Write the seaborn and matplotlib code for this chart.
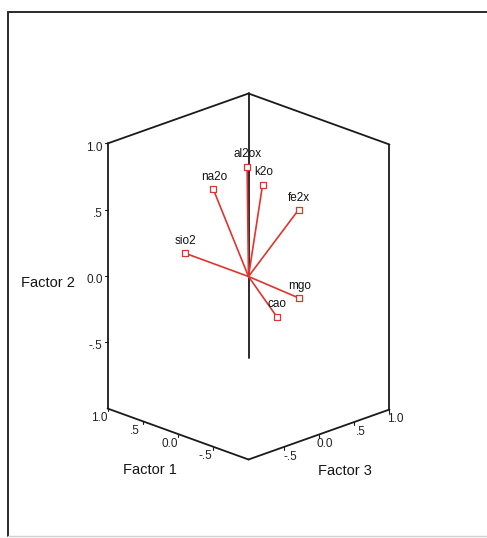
import numpy as np
import pandas as pd
import matplotlib
matplotlib.use("Agg")
import matplotlib.pyplot as plt
from matplotlib import font_manager
from matplotlib.lines import Line2D
import seaborn as sns

# Rotated factor loadings for the oxide variables
variables = ["sio2", "al2ox", "fe2x", "mgo", "cao", "na2o", "k2o"]
factor1 = [0.88, 0.14, -0.08, -0.46, -0.52, 0.56, 0.12]
factor2 = [0.01, 0.78, 0.40, -0.12, -0.18, 0.54, 0.61]
factor3 = [-0.02, 0.12, 0.63, 0.25, -0.12, 0.06, 0.32]

tick_values = [1.0, 0.5, 0.0, -0.5]
tick_labels = ["1.0", ".5", "0.0", "-.5"]
axis_titles = ["Factor 1", "Factor 2", "Factor 3"]

df = pd.DataFrame({"variable": variables, "f1": factor1, "f2": factor2, "f3": factor3})

# Oblique projection of the loading cube onto the page (vertical unit = 1)
E1 = np.array([-0.532, 0.1925])
E2 = np.array([0.0, 1.0])
E3 = np.array([0.532, 0.1887])
PX = 132.5  # pixels per vertical unit


def project(f1, f2, f3):
    f1, f2, f3 = np.asarray(f1, float), np.asarray(f2, float), np.asarray(f3, float)
    x = f1 * E1[0] + f2 * E2[0] + f3 * E3[0]
    y = f1 * E1[1] + f2 * E2[1] + f3 * E3[1]
    return x, y


def pick_font(*names):
    have = {f.name for f in font_manager.fontManager.ttflist}
    for n in names:
        if n in have:
            return n
    return "DejaVu Sans"


sns.set_theme(style="white")
main_font = pick_font("Liberation Sans", "Arimo", "DejaVu Sans")
narrow_font = pick_font("Liberation Sans Narrow", "Liberation Sans", "DejaVu Sans")
plt.rcParams["font.family"] = [main_font, "DejaVu Sans"]

W, H = 487, 538
fig = plt.figure(figsize=(W / 100, H / 100), dpi=100)
ax = fig.add_axes([0, 0, 1, 1])
cx, cy = 248.5, 276.5
ax.set_xlim(-cx / PX, (W - cx) / PX)
ax.set_ylim(-(H - cy) / PX, cy / PX)
ax.axis("off")

BOX = "#1a1a1a"
RED = "#e0342c"
box_lw = 1.3


def edge(a, b, **kw):
    xs, ys = project([a[0], b[0]], [a[1], b[1]], [a[2], b[2]])
    ax.plot(xs, ys, color=BOX, lw=box_lw, solid_capstyle="round", zorder=1, **kw)


# back walls and front floor edges (f1, f2, f3)
edge((1, 1, -1), (1, 1, 1))
edge((1, 1, 1), (-1, 1, 1))
edge((1, -1, -1), (1, 1, -1))
edge((1, -1, 1), (1, 1, 1))
edge((-1, -1, 1), (-1, 1, 1))
edge((1, -1, -1), (-1, -1, -1))
edge((-1, -1, -1), (-1, -1, 1))

t = 3 / PX
tick_kw = dict(textcoords="offset points", fontsize=8.5, family=narrow_font, color="#222")
# Factor 2 ticks on the left vertical edge
for v, lab in zip(tick_values, tick_labels):
    x, y = project(1, v, -1)
    ax.plot([x - t, x], [y, y], color=BOX, lw=0.8, zorder=1)
    ax.annotate(lab, (x, y), xytext=(-3.5, -3), ha="right", va="center", **tick_kw)
# Factor 1 ticks along the left floor edge
for v, lab in zip(tick_values, tick_labels):
    x, y = project(v, -1, -1)
    ax.plot([x, x], [y, y - t], color=BOX, lw=0.8, zorder=1)
    ax.annotate(lab, (x, y), xytext=(-6, -7), ha="center", va="center", **tick_kw)
# Factor 3 ticks along the right floor edge
for v, lab in zip(tick_values, tick_labels):
    x, y = project(-1, -1, v)
    ax.plot([x, x], [y, y - t], color=BOX, lw=0.8, zorder=1)
    ax.annotate(lab, (x, y), xytext=(4.5, -7), ha="center", va="center", **tick_kw)

# Axis titles
title_kw = dict(textcoords="offset points", ha="center", va="center",
                fontsize=10.5, color="#151515")
x, y = project(0, -1, -1)
ax.annotate(axis_titles[0], (x, y), xytext=(-20, -26), **title_kw)
x, y = project(-1, -1, 0)
ax.annotate(axis_titles[2], (x, y), xytext=(19, -26), **title_kw)
x, y = project(1, 0, -1)
ax.annotate(axis_titles[1], (x, y), xytext=(-43, -5), **title_kw)

# Loading vectors from the origin
px, py = project(df["f1"], df["f2"], df["f3"])
ox, oy = project(0, 0, 0)
for xi, yi in zip(px, py):
    ax.plot([ox, xi], [oy, yi], color=RED, lw=1.2, zorder=3)

sns.scatterplot(x=px, y=py, marker="s", s=14, color="white", edgecolor=RED,
                linewidth=0.9, ax=ax, zorder=4, legend=False)

for name, xi, yi in zip(df["variable"], px, py):
    ax.annotate(name, (xi, yi), xytext=(0.5, 4.5), textcoords="offset points",
                ha="center", va="bottom", fontsize=8.5, color="#111", zorder=5)

# Surrounding frame
fx0 = 8 / W
fy_top = 1 - 12 / H
fy_bot = 1 - 535.5 / H
fig.add_artist(Line2D([fx0, 1], [fy_top, fy_top], transform=fig.transFigure, color="#2a2a2a", lw=1.4))
fig.add_artist(Line2D([fx0, fx0], [fy_top, fy_bot], transform=fig.transFigure, color="#2a2a2a", lw=1.4))
fig.add_artist(Line2D([fx0, 1], [fy_bot, fy_bot], transform=fig.transFigure, color="#d0d0d0", lw=1.0))

fig.savefig("out.png", dpi=100)
